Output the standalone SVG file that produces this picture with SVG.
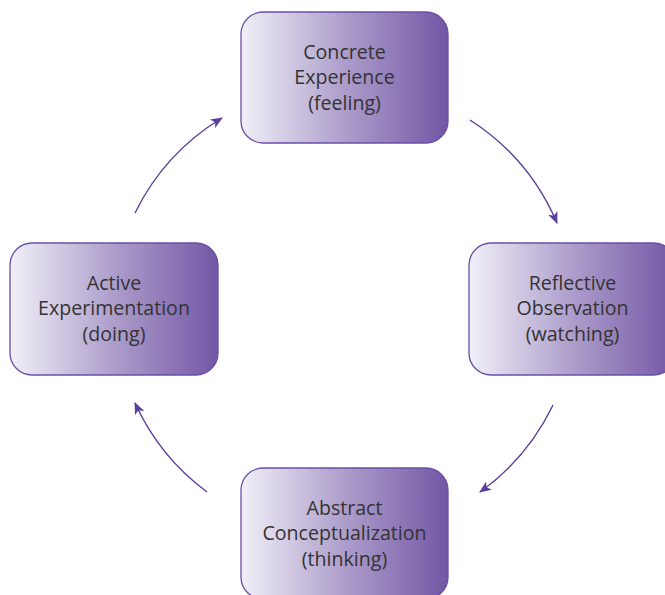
<svg xmlns="http://www.w3.org/2000/svg" width="665" height="595" viewBox="0 0 665 595">
  <defs>
    <linearGradient id="fill" x1="0" y1="0" x2="1" y2="0">
      <stop offset="0" stop-color="#f1f0f8"/>
      <stop offset="0.5" stop-color="#ad9dcb"/>
      <stop offset="1" stop-color="#7257a5"/>
    </linearGradient>
    <marker id="arrow" viewBox="0 0 12 10" refX="11" refY="5" markerWidth="12" markerHeight="10" markerUnits="userSpaceOnUse" orient="auto">
      <path d="M0,0 L12,5 L0,10 L3,5 z" fill="#5a3e9b"/>
    </marker>
  </defs>
  <style>
    .box { fill: url(#fill); stroke: #6a4fa6; stroke-width: 1.3; }
    .lbl { font-family: "Open Sans", "Noto Sans", sans-serif; font-size: 19.6px; fill: #333333; text-anchor: middle; }
    .arc { fill: none; stroke: #5a3e9b; stroke-width: 1.4; marker-end: url(#arrow); }
  </style>
  <rect width="665" height="595" fill="#ffffff"/>
  <g id="connectors">
    <path class="arc" d="M470,120 A229,229 0 0 1 557,223"/>
    <path class="arc" d="M553,405 A229,229 0 0 1 480,492"/>
    <path class="arc" d="M207,492 A229,229 0 0 1 135,403"/>
    <path class="arc" d="M135,213 A229,229 0 0 1 222,118"/>
  </g>
  <g id="concrete-experience">
    <rect class="box" x="241" y="12" width="207" height="131" rx="22"/>
    <text class="lbl" x="344.5" y="59">Concrete</text>
    <text class="lbl" x="344.5" y="84">Experience</text>
    <text class="lbl" x="344.5" y="110">(feeling)</text>
  </g>
  <g id="reflective-observation">
    <rect class="box" x="469" y="243" width="207" height="132" rx="22"/>
    <text class="lbl" x="572.5" y="290">Reflective</text>
    <text class="lbl" x="572.5" y="315">Observation</text>
    <text class="lbl" x="572.5" y="341">(watching)</text>
  </g>
  <g id="abstract-conceptualization">
    <rect class="box" x="241" y="468" width="207" height="131" rx="22"/>
    <text class="lbl" x="344.5" y="515">Abstract</text>
    <text class="lbl" x="344.5" y="540">Conceptualization</text>
    <text class="lbl" x="344.5" y="566">(thinking)</text>
  </g>
  <g id="active-experimentation">
    <rect class="box" x="10" y="243" width="208" height="132" rx="22"/>
    <text class="lbl" x="114" y="290">Active</text>
    <text class="lbl" x="114" y="315">Experimentation</text>
    <text class="lbl" x="114" y="341">(doing)</text>
  </g>
</svg>
